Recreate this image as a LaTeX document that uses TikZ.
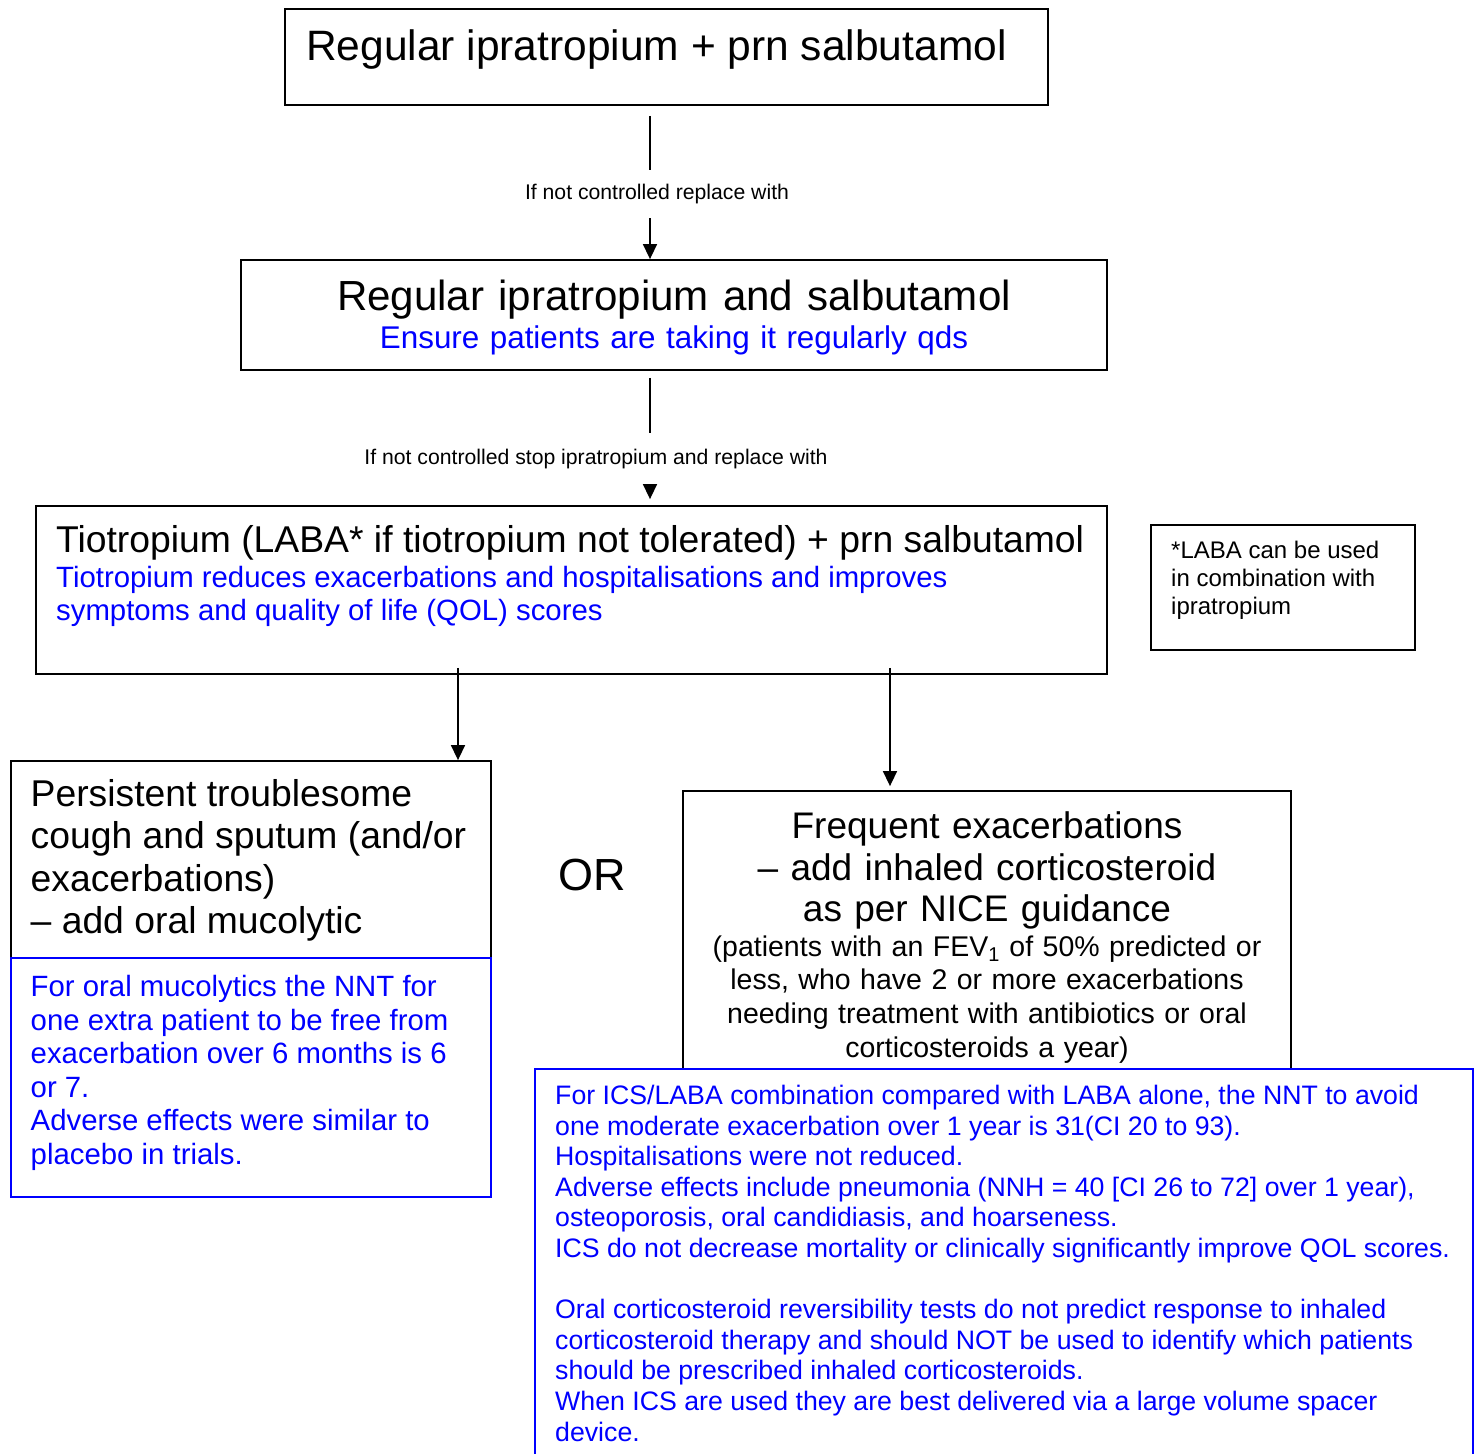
\documentclass[tikz,border=0pt]{standalone}
\usepackage{fontspec}
\setmainfont{Liberation Sans}
\usetikzlibrary{arrows.meta}
\definecolor{refblue}{RGB}{0,0,255}
\begin{document}
\begin{tikzpicture}[x=1pt,y=-1pt,
  box/.style={draw=black,line width=1.8pt,inner sep=0pt},
  bbox/.style={draw=refblue,line width=1.8pt,inner sep=0pt},
  txtl/.style={inner sep=0pt,anchor=base west,align=flush left},
  txtc/.style={inner sep=0pt,anchor=base,align=center},
  lbl/.style={inner xsep=2pt,font=\fontsize{21.2}{25}\selectfont,text height=15.4pt,text depth=4.5pt,anchor=base},
  conn/.style={line width=1.5pt},
  arr/.style={line width=1.5pt,-{Triangle[length=15pt,width=14pt]}},
  blu/.style={text=refblue}]
\useasboundingbox (0,0) rectangle (1481,1454);
\clip (0,0) rectangle (1481,1454);

% boxes
\node[box,minimum width=763pt,minimum height=96pt] (b1) at (666.5,57) {};
\node[txtl,text width=740pt,font=\fontsize{42.5}{49}\selectfont] (t1) at (306,60) {Regular ipratropium + prn salbutamol};

\node[box,minimum width=866pt,minimum height=110pt] (b2) at (674,315) {};
\node[txtc,text width=850pt,font=\fontsize{42.1}{49}\selectfont] (t2) at (674,310) {Regular ipratropium and salbutamol};
\node[txtc,blu,text width=850pt,font=\fontsize{31.4}{37}\selectfont] (t2b) at (674,348.3) {Ensure patients are taking it regularly qds};

\node[box,minimum width=1071pt,minimum height=168pt] (b3) at (571.5,590) {};
\node[txtl,text width=1045pt,font=\fontsize{37.3}{42.5}\selectfont] (t3) at (56,552.7) {Tiotropium (LABA* if tiotropium not tolerated) + prn salbutamol};
\node[txtl,blu,text width=1040pt,font=\fontsize{29.35}{33}\selectfont] (t3b) at (56,587.3) {Tiotropium reduces exacerbations and hospitalisations and improves\\symptoms and quality of life (QOL) scores};

\node[box,minimum width=264pt,minimum height=125pt] (fn) at (1283,587.5) {};
\node[txtl,text width=240pt,font=\fontsize{24}{28.1}\selectfont] (fnt) at (1171,558.3) {*LABA can be used\\in combination with\\ipratropium};

\node[box,minimum width=480pt,minimum height=197pt] (b4) at (251,859.5) {};
\node[bbox,minimum width=480pt,minimum height=239pt] (b4b) at (251,1077.5) {};
\node[txtl,text width=455pt,font=\fontsize{37.3}{42.5}\selectfont] (t4) at (30.5,806) {Persistent troublesome\\cough and sputum (and/or\\exacerbations)\\– add oral mucolytic};
\node[txtl,blu,text width=455pt,font=\fontsize{29.35}{33.5}\selectfont] (t4b) at (30.5,996.5) {For oral mucolytics the NNT for\\one extra patient to be free from\\exacerbation over 6 months is 6\\or 7.\\Adverse effects were similar to\\placebo in trials.};

\node[font=\fontsize{45}{52}\selectfont,inner sep=0pt,anchor=base] (or) at (592.5,890) {OR};

\node[box,minimum width=608pt,minimum height=278pt] (b5) at (987,930) {};
\node[txtc,text width=600pt,font=\fontsize{37}{41.5}\selectfont] (t5) at (987,838.5) {Frequent exacerbations\\– add inhaled corticosteroid\\as per NICE guidance};
\node[txtc,text width=600pt,font=\fontsize{28.5}{33.7}\selectfont] (t5b) at (987,956) {(patients with an FEV\textsubscript{1} of 50\% predicted or\\less, who have 2 or more exacerbations\\needing treatment with antibiotics or oral\\corticosteroids a year)};

\node[bbox,minimum width=938pt,minimum height=401pt] (b7) at (1004,1269.5) {};
\node[txtl,blu,text width=915pt,font=\fontsize{26.7}{30.6}\selectfont] (t7) at (555,1104.5) {For ICS/LABA combination compared with LABA alone, the NNT to avoid\\one moderate exacerbation over 1 year is 31(CI 20 to 93).\\Hospitalisations were not reduced.\\Adverse effects include pneumonia (NNH = 40 [CI 26 to 72] over 1 year),\\osteoporosis, oral candidiasis, and hoarseness.\\ICS do not decrease mortality or clinically significantly improve QOL scores.\\[30.6pt]Oral corticosteroid reversibility tests do not predict response to inhaled\\corticosteroid therapy and should NOT be used to identify which patients\\should be prescribed inhaled corticosteroids.\\When ICS are used they are best delivered via a large volume spacer\\device.};

% labels
\node[lbl,inner ysep=14pt] (l1) at (657,199.3) {If not controlled replace with};
\node[lbl,inner ysep=15.5pt] (l2) at (596,464) {If not controlled stop ipratropium and replace with};

% connector x positions
\coordinate (cx1) at (650,0);
\coordinate (cx3) at (458,0);
\coordinate (cx4) at (890,0);

% connectors
\draw[conn,shorten <=10pt] (b1.south -| cx1) -- (l1.north -| cx1);
\draw[arr] (l1.south -| cx1) -- (b2.north -| cx1);
\draw[conn,shorten <=7pt] (b2.south -| cx1) -- (l2.north -| cx1);
\draw[arr,shorten >=6pt] (l2.south -| cx1) -- (b3.north -| cx1);
\draw[arr,shorten <=-7pt] (b3.south -| cx3) -- (b4.north -| cx3);
\draw[arr,shorten <=-7pt,shorten >=4pt] (b3.south -| cx4) -- (b5.north -| cx4);
\end{tikzpicture}
\end{document}
